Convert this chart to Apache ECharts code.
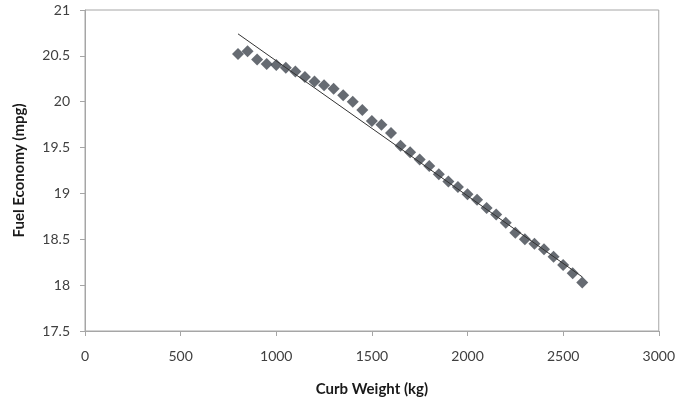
<!DOCTYPE html>
<html>
<head>
<meta charset="utf-8">
<script src="https://cdn.jsdelivr.net/npm/echarts@6/dist/echarts.min.js"></script>
<style>
html,body{margin:0;padding:0;background:#fff;}
#chart{width:678px;height:402px;}
</style>
</head>
<body>
<div id="chart"></div>
<script>
const curbWeight = [800,850,900,950,1000,1050,1100,1150,1200,1250,1300,1350,1400,1450,1500,1550,1600,1650,1700,1750,1800,1850,1900,1950,2000,2050,2100,2150,2200,2250,2300,2350,2400,2450,2500,2550,2600];
const fuelEconomy = [20.52,20.55,20.46,20.41,20.40,20.37,20.33,20.27,20.22,20.18,20.14,20.07,20.00,19.91,19.79,19.75,19.66,19.52,19.45,19.37,19.30,19.21,19.13,19.07,18.99,18.93,18.84,18.77,18.68,18.57,18.50,18.45,18.39,18.31,18.22,18.13,18.03];
const trendX = [800, 2600];
const trendY = [20.74, 18.09];

const chart = echarts.init(document.getElementById('chart'), null, {renderer:'canvas'});
const font = 'Lato, "Open Sans", sans-serif';
chart.setOption({
  animation: false,
  backgroundColor: '#fff',
  grid: {left: 85, right: 19, top: 10, bottom: 71, show: true, borderColor: '#a6a6a6', borderWidth: 1},
  xAxis: {
    type: 'value', min: 0, max: 3000, interval: 500,
    name: 'Curb Weight (kg)', nameLocation: 'middle', nameGap: 51,
    nameTextStyle: {fontFamily: font, fontSize: 15, fontWeight: 'bold', color: '#1a1a1a'},
    axisLine: {show: true, lineStyle: {color: '#a6a6a6'}},
    axisTick: {show: true, inside: false, length: 5, lineStyle: {color: '#a6a6a6'}},
    axisLabel: {fontFamily: font, fontSize: 14, color: '#404040', margin: 18, formatter: v => String(v)},
    splitLine: {show: false}
  },
  yAxis: {
    type: 'value', min: 17.5, max: 21, interval: 0.5,
    name: 'Fuel Economy (mpg)', nameLocation: 'middle', nameGap: 58, nameRotate: 90,
    nameTextStyle: {fontFamily: font, fontSize: 15, fontWeight: 'bold', color: '#1a1a1a'},
    axisLine: {show: true, lineStyle: {color: '#a6a6a6'}},
    axisTick: {show: true, inside: false, length: 5, lineStyle: {color: '#a6a6a6'}},
    axisLabel: {fontFamily: font, fontSize: 14, color: '#404040', margin: 15, formatter: v => String(v)},
    splitLine: {show: false}
  },
  series: [
    {
      type: 'scatter',
      symbol: 'diamond',
      symbolSize: [12, 12],
      itemStyle: {color: '#40464f'},
      data: curbWeight.map((x, i) => [x, fuelEconomy[i]]),
      z: 2
    },
    {
      type: 'line',
      showSymbol: false,
      symbol: 'none',
      lineStyle: {color: '#333', width: 1},
      data: trendX.map((x, i) => [x, trendY[i]]),
      z: 3
    }
  ]
});
</script>
</body>
</html>
